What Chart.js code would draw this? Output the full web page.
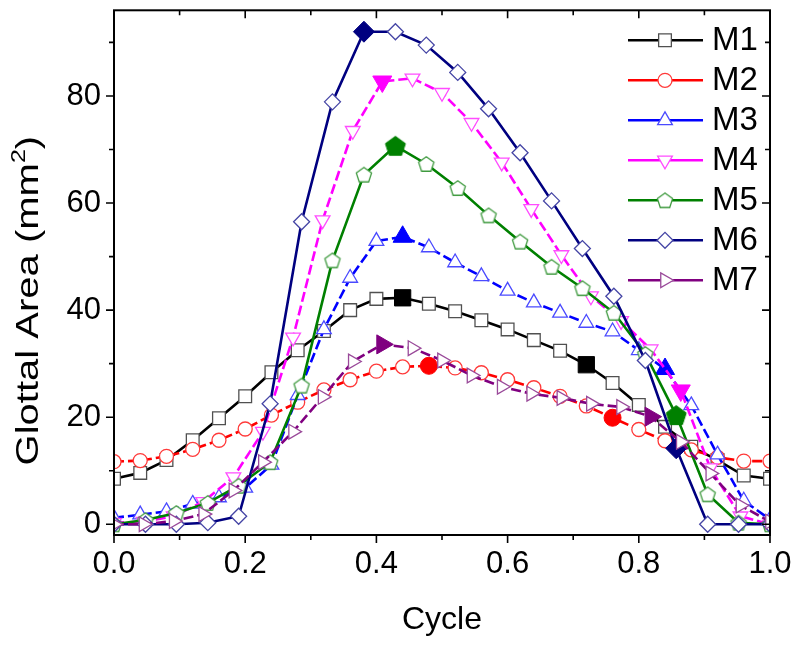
<!DOCTYPE html>
<html><head><meta charset="utf-8">
<script src="https://cdn.jsdelivr.net/npm/chart.js@4.4.0/dist/chart.umd.min.js"></script>
<style>html,body{margin:0;padding:0;background:#fff;}#wrap{width:800px;height:649px;}</style>
</head><body><div id="wrap"><canvas id="c" width="800" height="649"></canvas></div>
<script>
// ---- data ----
const cycleA = [0,0.04,0.08,0.12,0.16,0.2,0.24,0.28,0.32,0.36,0.4,0.44,0.48,0.52,0.56,0.6,0.64,0.68,0.72,0.76,0.8,0.84,0.88,0.92,0.96,1];
const cycleB = [0,0.045,0.091,0.136,0.182,0.227,0.273,0.318,0.364,0.409,0.455,0.5,0.545,0.591,0.636,0.682,0.727,0.773,0.818,0.864,0.909,0.955,1];
const cycleC = [0,0.048,0.095,0.143,0.19,0.238,0.286,0.333,0.381,0.429,0.476,0.524,0.571,0.619,0.667,0.714,0.762,0.81,0.857,0.905,0.952,1];
const seriesNames = ['M1','M2','M3','M4','M5','M6','M7'];
const m1 = [8.5,9.6,12.0,15.7,19.8,23.9,28.4,32.5,36.1,40.0,42.1,42.3,41.2,39.8,38.1,36.4,34.4,32.4,29.8,26.4,22.3,18.2,14.5,12.0,9.1,8.5];
const m2 = [11.7,11.9,12.7,14.0,15.7,17.8,20.4,22.8,25.1,27.0,28.6,29.4,29.6,29.2,28.3,27.0,25.5,23.9,22.1,19.9,17.7,15.6,13.9,12.5,11.8,11.8];
const m3 = [1.2,1.8,2.4,3.8,5.0,6.8,11.1,24.1,36.4,46.0,52.9,53.7,51.7,48.9,46.3,43.6,41.4,39.5,37.6,36.0,32.5,29.0,22.2,13.0,4.4,0.9];
const m4 = [0.3,0.5,1.5,4.2,8.8,17.3,34.9,56.8,73.5,82.7,83.3,80.6,75.0,67.6,58.9,50.3,42.6,38.0,32.7,25.0,10.5,1.5,0];
const m5 = [0,0.8,2.1,4.0,7.2,11.6,25.9,49.3,65.3,70.7,67.3,62.8,57.7,52.8,48.1,44.1,39.5,31.8,20.4,5.6,0.3,0];
const m6 = [0,0,0,0.3,1.5,22.5,56.5,78.9,92.0,92.0,89.5,84.4,77.6,69.4,60.4,51.5,42.6,30.6,14.2,0,0,0];
const m7 = [0,0,0.6,1.9,6.3,11.6,17.3,23.8,30.4,33.6,32.9,30.6,27.8,25.7,24.4,23.6,22.5,21.9,20.1,15.4,9.5,3.5,0.5];
const m1Key = [0.44,0.72];
const m2Key = [0.48,0.76];
const m3Key = [0.44,0.84];
const m4Key = [0.409,0.864];
const m5Key = [0.429,0.857];
const m6Key = [0.381,0.857];
const m7Key = [0.409,0.818];
const xTickValues = [0,0.2,0.4,0.6,0.8,1.0];
const xMinorValues = [0.1,0.3,0.5,0.7,0.9];
const yTickValues = [0,20,40,60,80];
const yMinorValues = [10,30,50,70,90];
const yTitleMain = 'Glottal Area (mm';
const yTitleSup = '2';
const yTitleEnd = ')';

const FONT = "'Liberation Sans', Arial, sans-serif";

function makePentagon(r, fill, stroke, lw) {
  const s = Math.ceil(2 * r + lw + 2);
  const cv = document.createElement('canvas');
  cv.width = s; cv.height = s;
  const c = cv.getContext('2d');
  const cx = s / 2, cy = s / 2 + r * 0.1;
  c.beginPath();
  for (let k = 0; k < 5; k++) {
    const a = -Math.PI / 2 + k * 2 * Math.PI / 5;
    const px = cx + r * Math.cos(a), py = cy + r * Math.sin(a);
    if (k === 0) c.moveTo(px, py); else c.lineTo(px, py);
  }
  c.closePath();
  c.fillStyle = fill; c.fill();
  c.lineWidth = lw; c.strokeStyle = stroke; c.stroke();
  return cv;
}
const pentHollow = makePentagon(8, '#ffffff', '#3f9a3f', 1.3);
const pentFilled = makePentagon(10.5, '#008000', '#008000', 1);

function makeDS(idx, xs, ys, keys, color, ptColor, style, rot, rH, rF, dash) {
  const isKey = (ctx) => keys.includes(xs[ctx.dataIndex]);
  return {
    label: seriesNames[idx],
    data: ys.map((v, i) => ({ x: xs[i], y: v })),
    borderColor: color,
    backgroundColor: color,
    borderWidth: 2.6,
    borderDash: dash,
    tension: 0,
    fill: false,
    order: 7 - idx,
    pointStyle: style === 'pentagon' ? (ctx => isKey(ctx) ? pentFilled : pentHollow) : style,
    pointRotation: rot,
    pointRadius: ctx => isKey(ctx) ? rF : rH,
    pointBackgroundColor: ctx => isKey(ctx) ? color : '#ffffff',
    pointBorderColor: ctx => isKey(ctx) ? color : ptColor,
    pointBorderWidth: ctx => isKey(ctx) ? 1 : 1.3,
    _legend: { style: style === 'pentagon' ? pentHollow : style, rot, r: rH, color, ptColor }
  };
}

const datasets = [
  makeDS(0, cycleA, m1, m1Key, '#000000', '#505050', 'rect', 0, 9, 11.5, []),
  makeDS(1, cycleA, m2, m2Key, '#ff0000', '#ff3a3a', 'circle', 0, 7, 8.5, [10, 4]),
  makeDS(2, cycleA, m3, m3Key, '#0000ff', '#4a4aff', 'triangle', 0, 8.5, 11, [10, 4]),
  makeDS(3, cycleB, m4, m4Key, '#ff00ff', '#ff4cff', 'triangle', 180, 8.5, 11, [10, 4]),
  makeDS(4, cycleC, m5, m5Key, '#008000', '#3f9a3f', 'pentagon', 0, 8, 10.5, []),
  makeDS(5, cycleC, m6, m6Key, '#000080', '#4545a5', 'rectRot', 0, 8, 10.5, []),
  makeDS(6, cycleB, m7, m7Key, '#800080', '#9a4a9a', 'triangle', 90, 8.5, 11, [10, 4])
];

const framePlugin = {
  id: 'frame',
  afterDatasetsDraw(chart) {
    const ctx = chart.ctx, a = chart.chartArea;
    const xs = chart.scales.x, ys = chart.scales.y;
    ctx.save();
    ctx.strokeStyle = '#000'; ctx.lineWidth = 2;
    ctx.strokeRect(a.left, a.top, a.right - a.left, a.bottom - a.top);
    ctx.lineWidth = 1.6;
    ctx.beginPath();
    const tick = (vals, len) => {
      vals.forEach(v => {
        const px = xs.getPixelForValue(v);
        ctx.moveTo(px, a.bottom); ctx.lineTo(px, a.bottom + len);
        ctx.moveTo(px, a.top); ctx.lineTo(px, a.top + len);
      });
    };
    tick(xTickValues, 8); tick(xMinorValues, 5);
    const ytick = (vals, len) => {
      vals.forEach(v => {
        const py = ys.getPixelForValue(v);
        ctx.moveTo(a.left, py); ctx.lineTo(a.left - len, py);
        ctx.moveTo(a.right, py); ctx.lineTo(a.right - len, py);
      });
    };
    ytick(yTickValues, 8); ytick(yMinorValues, 5);
    ctx.stroke();

    // y axis title (rotated, slightly elongated like the reference)
    ctx.save();
    ctx.fillStyle = '#000';
    ctx.translate(29, (a.top + a.bottom) / 2 + 28);
    ctx.rotate(-Math.PI / 2);
    ctx.scale(1.25, 1);
    ctx.textBaseline = 'middle';
    ctx.font = '32px ' + FONT;
    const wMain = ctx.measureText(yTitleMain).width;
    const wEnd = ctx.measureText(yTitleEnd).width;
    ctx.font = '20px ' + FONT;
    const wSup = ctx.measureText(yTitleSup).width;
    const total = wMain + wSup + wEnd;
    let x = -total / 2;
    ctx.textAlign = 'left';
    ctx.font = '32px ' + FONT;
    ctx.fillText(yTitleMain, x, 0); x += wMain;
    ctx.font = '20px ' + FONT;
    ctx.fillText(yTitleSup, x, -10); x += wSup;
    ctx.font = '32px ' + FONT;
    ctx.fillText(yTitleEnd, x, 0);
    ctx.restore();

    // legend
    chart.data.datasets.forEach((ds, i) => {
      const L = ds._legend;
      const y = a.top + 30 + i * 40;
      const x0 = a.right - 142, x1 = a.right - 67, xm = a.right - 105;
      ctx.setLineDash([]);
      ctx.strokeStyle = L.color; ctx.lineWidth = 2.6;
      ctx.beginPath(); ctx.moveTo(x0, y); ctx.lineTo(x1, y); ctx.stroke();
      ctx.fillStyle = '#fff'; ctx.strokeStyle = L.ptColor; ctx.lineWidth = 1.3;
      Chart.helpers.drawPoint(ctx, { pointStyle: L.style, rotation: L.rot, radius: L.r, borderWidth: 1.3 }, xm, y);
      ctx.fillStyle = '#000';
      ctx.font = '33px ' + FONT;
      ctx.textAlign = 'left'; ctx.textBaseline = 'middle';
      ctx.fillText(ds.label, a.right - 58, y + 1);
    });
    ctx.restore();
  }
};

new Chart(document.getElementById('c'), {
  type: 'line',
  data: { datasets },
  options: {
    responsive: false,
    animation: false,
    devicePixelRatio: 1,
    layout: { padding: { top: 7, right: 30, left: 0, bottom: 0 } },
    plugins: { legend: { display: false }, tooltip: { enabled: false } },
    scales: {
      x: {
        type: 'linear', min: 0, max: 1,
        afterBuildTicks: s => { s.ticks = xTickValues.map(v => ({ value: v })); },
        afterFit: s => { s.height = 114; s.paddingLeft = 0; s.paddingRight = 0; },
        grid: { display: false, drawTicks: false, tickLength: 0 },
        border: { display: false },
        ticks: { color: '#000', font: { size: 31, family: FONT }, padding: 11, maxRotation: 0,
          callback: v => Number(v).toFixed(1) },
        title: { display: true, text: 'Cycle', color: '#000', font: { size: 32, family: FONT }, padding: { top: 0, bottom: 10 } }
      },
      y: {
        type: 'linear', min: -2, max: 96,
        afterBuildTicks: s => { s.ticks = yTickValues.map(v => ({ value: v })); },
        afterFit: s => { s.width = 114; s.paddingTop = 0; s.paddingBottom = 0; },
        grid: { display: false, drawTicks: false, tickLength: 0 },
        border: { display: false },
        ticks: { color: '#000', font: { size: 31, family: FONT }, padding: 13,
          callback: v => String(v) },
        title: { display: false }
      }
    }
  },
  plugins: [framePlugin]
});
</script>
</body></html>
